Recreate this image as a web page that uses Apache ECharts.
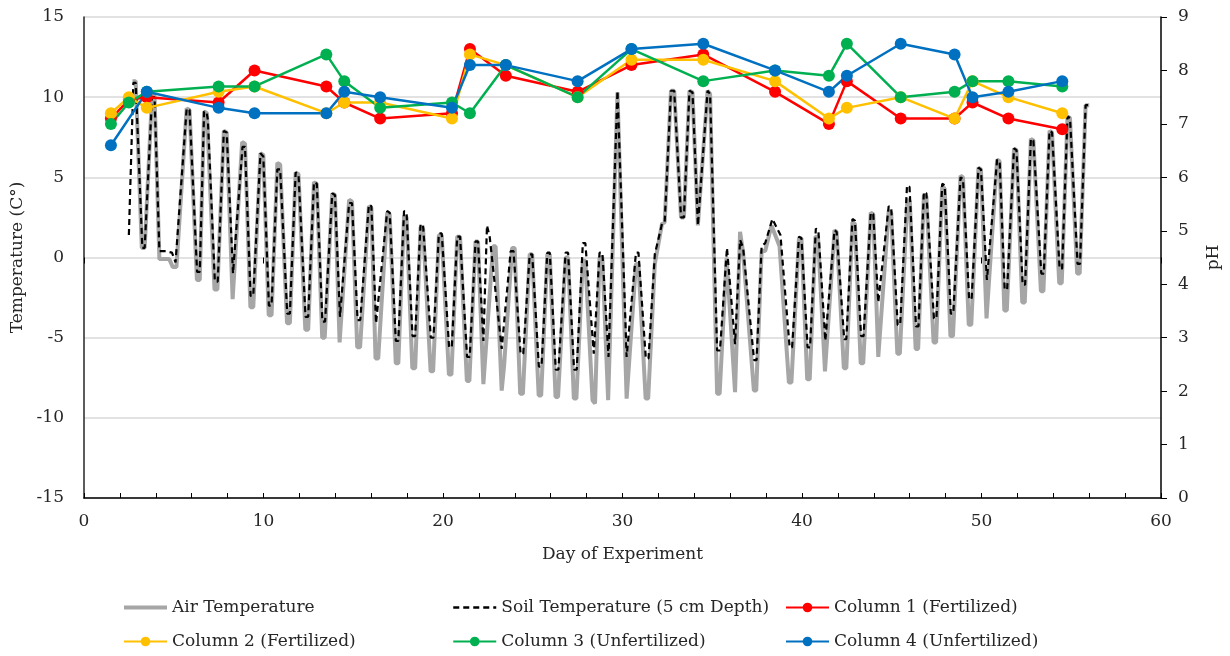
<!DOCTYPE html>
<html>
<head>
<meta charset="utf-8">
<script src="https://cdn.jsdelivr.net/npm/echarts@6/dist/echarts.min.js"></script>
<style>html,body{margin:0;padding:0;background:#fff}#chart{width:1230px;height:656px}</style>
</head>
<body>
<div id="chart"></div>
<script>
// ---- data ----
const xTicks = [0, 10, 20, 30, 40, 50, 60];
const tempTicks = [-15, -10, -5, 0, 5, 10, 15];
const phTicks = [0, 1, 2, 3, 4, 5, 6, 7, 8, 9];

const airTemperature = [
[2.7,11.0],[2.88,11.0],[3.22,0.6],[3.38,0.6],[3.79,10.1],[3.93,10.1],[4.2,-0.1],[4.75,-0.1],[4.95,-0.6],[5.15,-0.6],
[5.72,9.3],[5.88,9.2],[6.29,-1.4],[6.45,-1.4],[6.69,9.1],[6.85,9.0],[7.27,-2.0],[7.43,-2.0],[7.79,7.9],[7.95,7.8],
[8.28,-2.6],[8.36,-2.6],[8.81,7.2],[8.97,7.1],[9.27,-3.1],[9.43,-3.1],[9.83,6.5],[9.99,6.4],[10.29,-3.6],[10.45,-3.6],
[10.77,5.9],[10.93,5.8],[11.31,-4.1],[11.47,-4.1],[11.79,5.3],[11.95,5.2],[12.33,-4.5],[12.49,-4.5],[12.81,4.7],[12.97,4.6],
[13.27,-5.0],[13.41,-5.0],[13.83,4.0],[13.98,3.9],[14.24,-5.3],[14.3,-5.3],[14.77,3.6],[14.93,3.5],[15.22,-5.6],[15.38,-5.6],
[15.87,3.2],[16.01,3.1],[16.24,-6.3],[16.39,-6.3],[16.89,2.8],[17.03,2.7],[17.37,-6.6],[17.51,-6.6],[17.83,2.6],[17.97,2.5],
[18.29,-6.9],[18.45,-6.9],[18.75,1.9],[18.89,1.8],[19.31,-7.1],[19.45,-7.1],[19.77,1.4],[19.93,1.4],[20.33,-7.3],[20.47,-7.3],
[20.79,1.3],[20.95,1.3],[21.33,-7.7],[21.47,-7.7],[21.81,1.0],[21.95,1.0],[22.25,-7.9],[22.79,0.7],[22.93,0.7],[23.27,-8.3],
[23.4,-6.8],[23.85,0.6],[23.99,0.6],[24.3,-8.5],[24.45,-8.5],[24.83,0.2],[24.97,0.2],[25.33,-8.6],[25.47,-8.6],[25.81,0.2],
[25.95,0.2],[26.27,-8.7],[26.41,-8.7],[26.83,0.0],[26.97,0.0],[27.29,-8.8],[27.43,-8.8],[27.79,-0.2],[27.93,-0.2],[28.33,-8.9],
[28.47,-9.1],[28.72,0.0],[28.88,0.0],[29.2,-8.9],[29.72,10.3],[29.82,10.3],[30.23,-8.8],[30.75,-0.4],[30.89,-0.4],[31.29,-8.8],
[31.43,-8.8],[31.8,-0.4],[32.2,2.1],[32.35,2.2],[32.7,10.4],[32.88,10.4],[33.26,2.5],[33.42,2.5],[33.73,10.4],[33.9,10.3],
[34.2,2.0],[34.74,10.4],[34.88,10.2],[35.27,-8.5],[35.41,-8.5],[35.8,0.0],[36.27,-8.4],[36.55,1.6],[36.72,0.3],[36.8,0.3],
[37.32,-8.3],[37.45,-8.3],[37.75,0.4],[37.95,0.4],[38.3,2.0],[38.75,0.7],[38.82,0.6],[39.27,-7.8],[39.41,-7.8],[39.83,1.2],
[39.97,1.2],[40.29,-7.6],[40.43,-7.6],[40.75,1.3],[40.89,1.3],[41.28,-7.1],[41.81,1.7],[41.93,1.6],[42.33,-6.9],[42.47,-6.9],
[42.81,2.2],[42.95,2.1],[43.27,-6.6],[43.41,-6.6],[43.83,2.8],[43.97,2.7],[44.25,-6.2],[44.83,2.9],[44.97,2.8],[45.31,-6.0],
[45.45,-6.0],[45.87,3.6],[46.01,3.5],[46.33,-5.7],[46.47,-5.7],[46.79,3.9],[46.93,3.8],[47.33,-5.3],[47.47,-5.3],[47.81,4.4],
[47.95,4.3],[48.27,-4.9],[48.41,-4.9],[48.83,5.1],[48.97,5.0],[49.29,-4.2],[49.43,-4.2],[49.83,5.6],[49.97,5.5],[50.28,-3.8],
[50.87,6.1],[51.01,6.0],[51.27,-3.3],[51.41,-3.3],[51.81,6.8],[51.95,6.7],[52.27,-2.8],[52.41,-2.8],[52.75,7.4],[52.89,7.3],
[53.31,-2.1],[53.45,-2.1],[53.79,7.9],[53.93,7.8],[54.33,-1.6],[54.47,-1.6],[54.79,8.8],[54.93,8.7],[55.33,-1.0],[55.47,-1.0],
[55.8,9.5],[56.0,9.5]
];

const soilTemperature = [
[2.5,1.4],[2.75,10.9],[2.88,10.9],[3.25,0.6],[3.38,0.6],[3.79,10.0],[3.93,10.0],[4.2,0.4],[4.55,0.4],[4.9,0.3],
[5.1,-0.3],[5.72,9.3],[5.88,9.2],[6.3,-0.9],[6.45,-0.9],[6.69,9.1],[6.82,9.1],[6.9,8.6],[7.29,-1.5],[7.45,-1.5],
[7.79,7.9],[7.95,7.8],[8.3,-1.0],[8.38,-1.0],[8.83,6.9],[8.97,6.9],[9.28,-2.4],[9.43,-2.4],[9.83,6.5],[9.99,6.3],
[10.3,-3.0],[10.45,-3.0],[10.77,5.5],[10.93,5.5],[11.32,-3.5],[11.47,-3.5],[11.79,5.3],[11.95,5.2],[12.34,-3.7],[12.49,-3.7],
[12.81,4.7],[12.97,4.6],[13.28,-4.0],[13.43,-4.0],[13.83,4.0],[13.98,3.9],[14.26,-3.7],[14.32,-3.7],[14.77,3.4],[14.93,3.4],
[15.24,-3.9],[15.39,-3.9],[15.87,3.3],[16.01,3.2],[16.27,-4.1],[16.35,-4.1],[16.89,2.9],[17.03,2.8],[17.37,-5.2],[17.51,-5.2],
[17.83,2.9],[17.97,2.8],[18.3,-4.9],[18.45,-4.9],[18.75,2.1],[18.89,2.0],[19.32,-5.0],[19.47,-5.0],[19.77,1.5],[19.93,1.5],
[20.34,-5.6],[20.49,-5.6],[20.79,1.3],[20.95,1.3],[21.34,-6.2],[21.49,-6.2],[21.81,1.0],[21.95,1.0],[22.25,-5.2],[22.45,2.0],
[22.6,1.3],[23.27,-5.7],[23.77,0.4],[23.93,0.4],[24.32,-6.0],[24.47,-6.0],[24.83,0.2],[24.97,0.2],[25.34,-6.8],[25.49,-6.8],
[25.81,0.3],[25.95,0.3],[26.28,-7.0],[26.43,-7.0],[26.83,0.3],[26.97,0.3],[27.3,-7.0],[27.45,-7.0],[27.79,0.9],[27.93,0.9],
[28.4,-6.0],[28.72,0.3],[28.88,0.3],[29.22,-6.2],[29.72,10.4],[29.82,10.4],[30.23,-6.2],[30.75,0.3],[30.89,0.3],[31.3,-6.3],
[31.45,-6.3],[31.8,0.2],[32.2,2.1],[32.35,2.2],[32.7,10.4],[32.88,10.4],[33.26,2.5],[33.42,2.5],[33.73,10.4],[33.9,10.3],
[34.2,2.0],[34.74,10.4],[34.88,10.2],[35.27,-5.8],[35.43,-5.8],[35.82,0.6],[36.27,-5.4],[36.55,1.1],[36.72,0.6],[37.33,-6.4],
[37.47,-6.4],[37.75,0.7],[37.95,0.9],[38.35,2.4],[38.8,1.4],[39.31,-5.6],[39.45,-5.6],[39.83,1.3],[39.97,1.2],[40.31,-5.6],
[40.45,-5.6],[40.77,1.8],[40.91,1.7],[41.3,-5.2],[41.81,1.7],[41.93,1.6],[42.35,-5.1],[42.47,-5.1],[42.81,2.4],[42.95,2.3],
[43.29,-4.9],[43.43,-4.9],[43.83,2.8],[43.97,2.7],[44.25,-2.8],[44.83,3.2],[44.97,3.1],[45.33,-4.2],[45.47,-4.2],[45.85,4.5],
[45.99,4.4],[46.35,-4.3],[46.49,-4.3],[46.79,4.1],[46.93,4.0],[47.35,-3.8],[47.49,-3.8],[47.81,4.6],[47.95,4.5],[48.29,-3.5],
[48.43,-3.5],[48.83,5.0],[48.97,4.9],[49.31,-2.6],[49.45,-2.6],[49.83,5.6],[49.97,5.5],[50.3,-1.4],[50.87,6.1],[51.01,6.0],
[51.29,-2.0],[51.43,-2.0],[51.81,6.8],[51.95,6.7],[52.29,-1.7],[52.43,-1.7],[52.75,7.4],[52.89,7.3],[53.33,-1.0],[53.47,-1.0],
[53.79,7.9],[53.93,7.8],[54.35,-0.7],[54.49,-0.7],[54.79,8.8],[54.93,8.7],[55.35,-0.4],[55.49,-0.4],[55.8,9.5],[56.0,9.5]
];

const col1Days = [1.5, 2.5, 3.5, 7.5, 9.5, 13.5, 14.5, 16.5, 20.5, 21.5, 23.5, 27.5, 30.5, 34.5, 38.5, 41.5, 42.5, 45.5, 48.5, 49.5, 51.5, 54.5];
const col1pH   = [7.1, 7.45, 7.5, 7.4, 8.0, 7.7, 7.4, 7.1, 7.2, 8.4, 7.9, 7.6, 8.1, 8.3, 7.6, 7.0, 7.8, 7.1, 7.1, 7.4, 7.1, 6.9];
const col2Days = [1.5, 2.5, 3.5, 7.5, 9.5, 13.5, 14.5, 16.5, 20.5, 21.5, 23.5, 27.5, 30.5, 34.5, 38.5, 41.5, 42.5, 45.5, 48.5, 49.5, 51.5, 54.5];
const col2pH   = [7.2, 7.5, 7.3, 7.6, 7.7, 7.2, 7.4, 7.4, 7.1, 8.3, 8.1, 7.5, 8.2, 8.2, 7.8, 7.1, 7.3, 7.5, 7.1, 7.8, 7.5, 7.2];
const col3Days = [1.5, 2.5, 3.5, 7.5, 9.5, 13.5, 14.5, 16.5, 20.5, 21.5, 23.5, 27.5, 30.5, 34.5, 38.5, 41.5, 42.5, 45.5, 48.5, 49.5, 51.5, 54.5];
const col3pH   = [7.0, 7.4, 7.6, 7.7, 7.7, 8.3, 7.8, 7.3, 7.4, 7.2, 8.1, 7.5, 8.4, 7.8, 8.0, 7.9, 8.5, 7.5, 7.6, 7.8, 7.8, 7.7];
const col4Days = [1.5, 3.5, 7.5, 9.5, 13.5, 14.5, 16.5, 20.5, 21.5, 23.5, 27.5, 30.5, 34.5, 38.5, 41.5, 42.5, 45.5, 48.5, 49.5, 51.5, 54.5];
const col4pH   = [6.6, 7.6, 7.3, 7.2, 7.2, 7.6, 7.5, 7.3, 8.1, 8.1, 7.8, 8.4, 8.5, 8.0, 7.6, 7.9, 8.5, 8.3, 7.5, 7.6, 7.8];

const names = ['Air Temperature', 'Soil Temperature (5 cm Depth)', 'Column 1 (Fertilized)',
               'Column 2 (Fertilized)', 'Column 3 (Unfertilized)', 'Column 4 (Unfertilized)'];

// ---- chart ----
const FONT = 'DejaVu Serif';
const FS = 17;
const TXT = '#262626';
const zip = (a, b) => a.map((d, i) => [d, b[i]]);

function phSeries(name, days, vals, color) {
  return {
    name, type: 'line', xAxisIndex: 0, yAxisIndex: 1,
    data: zip(days, vals),
    symbol: 'circle', symbolSize: 12,
    lineStyle: { color, width: 2.5 },
    itemStyle: { color },
    z: 5
  };
}
const lineOnly = (name, w) => ({ name, itemStyle: { opacity: 0 }, lineStyle: { width: w } });

const legendBase = {
  orient: 'vertical', itemGap: 17, itemWidth: 43, itemHeight: 12, padding: 0,
  textStyle: { fontFamily: FONT, fontSize: FS, color: TXT },
  selectedMode: false, top: 599
};

const chart = echarts.init(document.getElementById('chart'), null, { renderer: 'canvas' });
chart.setOption({
  animation: false,
  backgroundColor: '#fff',
  textStyle: { fontFamily: FONT },
  grid: { left: 84, right: 69, top: 17, bottom: 158 },
  legend: [
    Object.assign({}, legendBase, { left: 122, data: [lineOnly(names[0], 4), names[3]] }),
    Object.assign({}, legendBase, { left: 452, data: [lineOnly(names[1], 2.5), names[4]] }),
    Object.assign({}, legendBase, { left: 785, data: [names[2], names[5]] })
  ],
  xAxis: [{
    type: 'value', min: xTicks[0], max: xTicks[xTicks.length - 1], interval: 10,
    name: 'Day of Experiment', nameLocation: 'middle', nameGap: 48,
    nameTextStyle: { fontFamily: FONT, fontSize: FS, color: TXT },
    axisLine: { show: true, onZero: false, lineStyle: { color: '#000', width: 1.5 } },
    axisTick: { show: true, inside: true, length: 5, lineStyle: { color: '#000' } },
    minorTick: { show: true, splitNumber: 5, length: 5, lineStyle: { color: '#000' } },
    axisLabel: { fontFamily: FONT, fontSize: FS, color: TXT, margin: 15 },
    splitLine: { show: false }
  }, {
    type: 'value', min: xTicks[0], max: xTicks[xTicks.length - 1], interval: 10, position: 'bottom',
    axisLine: { show: false }, axisLabel: { show: false }, splitLine: { show: false },
    axisTick: { show: true, inside: false, length: 6, lineStyle: { color: '#000' } }
  }],
  yAxis: [{
    type: 'value', min: tempTicks[0], max: tempTicks[tempTicks.length - 1], interval: 5,
    name: 'Temperature (C°)', nameLocation: 'middle', nameGap: 57,
    nameTextStyle: { fontFamily: FONT, fontSize: FS, color: TXT },
    axisLine: { show: true, onZero: false, lineStyle: { color: '#262626', width: 1.5 } },
    axisTick: { show: false },
    axisLabel: { fontFamily: FONT, fontSize: FS, color: TXT, margin: 20 },
    splitLine: { show: true, lineStyle: { color: '#d9d9d9', width: 1.5 } }
  }, {
    type: 'value', min: phTicks[0], max: phTicks[phTicks.length - 1], interval: 1, position: 'right',
    name: 'pH', nameLocation: 'middle', nameGap: 44,
    nameTextStyle: { fontFamily: FONT, fontSize: FS, color: TXT },
    axisLine: { show: true, onZero: false, lineStyle: { color: '#000', width: 1.5 } },
    axisTick: { show: true, inside: false, length: 6, lineStyle: { color: '#000' } },
    axisLabel: { fontFamily: FONT, fontSize: FS, color: TXT, margin: 17 },
    splitLine: { show: false }
  }],
  series: [
    {
      name: names[0], type: 'line', xAxisIndex: 0, yAxisIndex: 0, data: airTemperature,
      symbol: 'none', lineStyle: { color: '#a6a6a6', width: 4 }, itemStyle: { color: '#a6a6a6' }, z: 2
    },
    {
      name: names[1], type: 'line', xAxisIndex: 0, yAxisIndex: 0, data: soilTemperature,
      symbol: 'none', lineStyle: { color: '#000', width: 2.2, type: [6, 4] }, itemStyle: { color: '#000' }, z: 3
    },
    phSeries(names[2], col1Days, col1pH, '#ff0000'),
    phSeries(names[3], col2Days, col2pH, '#ffc000'),
    phSeries(names[4], col3Days, col3pH, '#00b050'),
    phSeries(names[5], col4Days, col4pH, '#0070c0')
  ]
});
</script>
</body>
</html>
